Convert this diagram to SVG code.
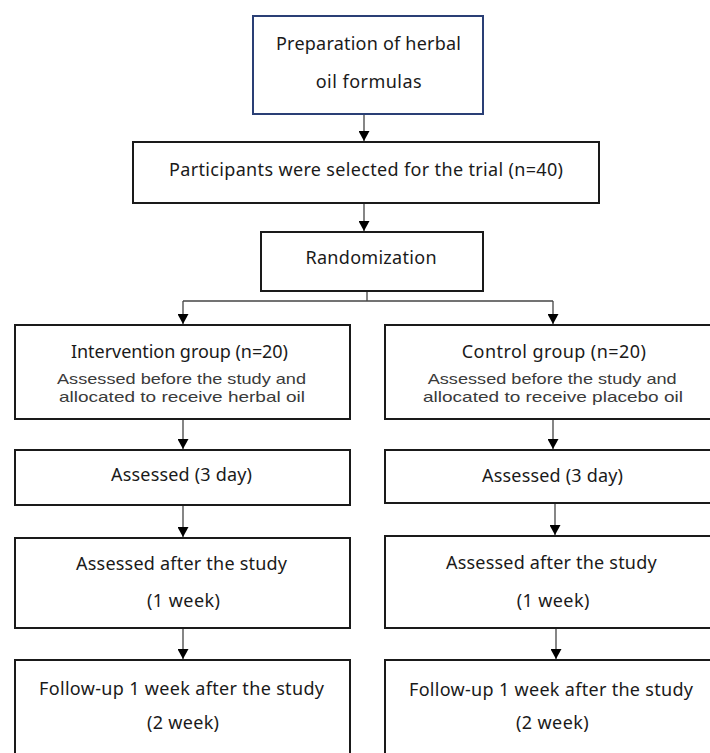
<svg xmlns="http://www.w3.org/2000/svg" width="710" height="753" viewBox="0 0 710 753">
<style>
  .box { fill: #ffffff; stroke: #1a1a1a; stroke-width: 2; }
  .blue { fill: #ffffff; stroke: #2a3f75; stroke-width: 2; }
  .t { font-family: "Noto Sans", "Open Sans", sans-serif; font-size: 18px; fill: #1a1a1a; text-anchor: middle; }
  .s { font-family: "Liberation Sans", Arial, sans-serif; font-size: 15px; fill: #3a3a3a; text-anchor: middle; }
  .c { fill: none; stroke: #444444; stroke-width: 1.3; }
</style>
<defs>
  <marker id="arr" viewBox="0 0 10 11" refX="10" refY="5.5" markerWidth="10" markerHeight="11" markerUnits="userSpaceOnUse" orient="auto">
    <path d="M0,0 L10,5.5 L0,11 Z" fill="#000000"/>
  </marker>
</defs>
<rect width="710" height="753" fill="#ffffff"/>

<g id="connectors">
  <path class="c" d="M364,114 V141" marker-end="url(#arr)"/>
  <path class="c" d="M364,203 V231" marker-end="url(#arr)"/>
  <path class="c" d="M367,291 V301"/>
  <path class="c" d="M183,301 H553"/>
  <path class="c" d="M183,301 V324" marker-end="url(#arr)"/>
  <path class="c" d="M553,301 V324" marker-end="url(#arr)"/>
  <path class="c" d="M183,419 V449" marker-end="url(#arr)"/>
  <path class="c" d="M183,505 V537" marker-end="url(#arr)"/>
  <path class="c" d="M183,628 V659" marker-end="url(#arr)"/>
  <path class="c" d="M553,419 V449" marker-end="url(#arr)"/>
  <path class="c" d="M555,503 V535" marker-end="url(#arr)"/>
  <path class="c" d="M556,628 V659" marker-end="url(#arr)"/>
</g>

<g id="prep">
  <rect class="blue" x="253" y="16" width="230" height="98"/>
  <text class="t" x="368.5" y="50" textLength="185">Preparation of herbal</text>
  <text class="t" x="368.7" y="88" textLength="106">oil formulas</text>
</g>

<g id="participants">
  <rect class="box" x="133" y="142" width="466" height="61"/>
  <text class="t" x="366" y="176" textLength="394">Participants were selected for the trial (n=40)</text>
</g>

<g id="randomization">
  <rect class="box" x="261" y="232" width="222" height="59"/>
  <text class="t" x="371" y="264" textLength="131">Randomization</text>
</g>

<g id="intervention">
  <rect class="box" x="15" y="325" width="335" height="94"/>
  <text class="t" x="179.5" y="358" textLength="217">Intervention group (n=20)</text>
  <text class="s" x="181.5" y="384" textLength="249" lengthAdjust="spacingAndGlyphs">Assessed before the study and</text>
  <text class="s" x="182" y="401.5" textLength="246" lengthAdjust="spacingAndGlyphs">allocated to receive herbal oil</text>
</g>

<g id="control">
  <rect class="box" x="385" y="325" width="340" height="94"/>
  <text class="t" x="553.8" y="358" textLength="184">Control group (n=20)</text>
  <text class="s" x="552.2" y="384" textLength="249" lengthAdjust="spacingAndGlyphs">Assessed before the study and</text>
  <text class="s" x="553" y="401.5" textLength="260" lengthAdjust="spacingAndGlyphs">allocated to receive placebo oil</text>
</g>

<g id="left-3day">
  <rect class="box" x="15" y="450" width="335" height="55"/>
  <text class="t" x="181.5" y="481" textLength="141">Assessed (3 day)</text>
</g>

<g id="right-3day">
  <rect class="box" x="385" y="450" width="340" height="53"/>
  <text class="t" x="552.5" y="482" textLength="141">Assessed (3 day)</text>
</g>

<g id="left-1week">
  <rect class="box" x="15" y="538" width="335" height="90"/>
  <text class="t" x="181.5" y="570" textLength="211">Assessed after the study</text>
  <text class="t" x="183.5" y="607" textLength="73">(1 week)</text>
</g>

<g id="right-1week">
  <rect class="box" x="385" y="536" width="340" height="92"/>
  <text class="t" x="551.3" y="568.5" textLength="210.7">Assessed after the study</text>
  <text class="t" x="553" y="607" textLength="72.6">(1 week)</text>
</g>

<g id="left-followup">
  <rect class="box" x="15" y="660" width="335" height="100"/>
  <text class="t" x="181.5" y="695" textLength="285">Follow-up 1 week after the study</text>
  <text class="t" x="183" y="729" textLength="72">(2 week)</text>
</g>

<g id="right-followup">
  <rect class="box" x="385" y="660" width="340" height="100"/>
  <text class="t" x="551" y="696" textLength="284">Follow-up 1 week after the study</text>
  <text class="t" x="552.3" y="729" textLength="72.6">(2 week)</text>
</g>
</svg>
